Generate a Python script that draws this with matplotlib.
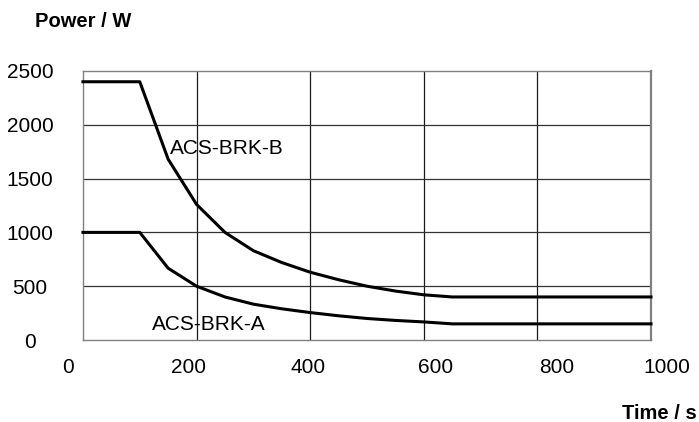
import matplotlib
matplotlib.use("Agg")
import matplotlib.pyplot as plt
from matplotlib.transforms import ScaledTranslation

plt.rcParams['font.family'] = ['Liberation Sans', 'DejaVu Sans']

zeit_b = [0, 100, 150, 200, 250, 300, 350, 400, 450, 500, 550, 600, 650, 1000]
leistung_b = [2400, 2400, 1680, 1260, 1000, 830, 720, 630, 560, 500, 455, 420, 400, 400]

zeit_a = [0, 100, 150, 200, 250, 300, 350, 400, 450, 500, 550, 600, 650, 1000]
leistung_a = [1000, 1000, 667, 500, 400, 333, 290, 255, 225, 200, 182, 168, 150, 150]

x_ticks = [0, 200, 400, 600, 800, 1000]
y_ticks = [0, 500, 1000, 1500, 2000, 2500]

fig = plt.figure(figsize=(6.99, 4.22), dpi=100)
ax = fig.add_axes([0.1187, 0.1943, 0.8126, 0.6375])

# Gitter
for x in x_ticks[1:-1]:
    ax.axvline(x, color='#1a1a1a', lw=0.9, zorder=1)
for y in y_ticks[1:-1]:
    ax.axhline(y, color='#333333', lw=0.9, zorder=1)

# Kurven
ax.plot(zeit_b, leistung_b, color='black', lw=2.2, zorder=3, clip_on=False)
ax.plot(zeit_a, leistung_a, color='black', lw=2.2, zorder=3, clip_on=False)

ax.text(153, 1730, 'ACS-BRK-B', fontsize=15, va='baseline', ha='left', zorder=4)
ax.text(121, 93, 'ACS-BRK-A', fontsize=15, va='baseline', ha='left', zorder=4)

ax.set_xlim(0, 1000)
ax.set_ylim(0, 2500)
ax.set_xticks(x_ticks)
ax.set_yticks(y_ticks)
ax.tick_params(length=0, labelsize=15)
ax.tick_params(axis='x', pad=13)
ax.tick_params(axis='y', pad=38)
for lbl in ax.get_yticklabels():
    lbl.set_horizontalalignment('center')

# Beschriftungen der x-Achse sitzen im Original etwas versetzt
versatz = [-10.8, -5.8, -1.4, 8.6, 13.7, 11.5]
for lbl, dx in zip(ax.get_xticklabels(), versatz):
    lbl.set_transform(lbl.get_transform() + ScaledTranslation(dx / 72, 0, fig.dpi_scale_trans))

for s in ax.spines.values():
    s.set_color('#808080')
    s.set_linewidth(1.0)
ax.spines['right'].set_linewidth(1.6)

fig.text(35 / 699, 1 - 27 / 422, 'Power / W', fontsize=14.5, fontweight='bold',
         ha='left', va='baseline')
fig.text(697 / 699, 3 / 422, 'Time / s', fontsize=14.5, fontweight='bold',
         ha='right', va='baseline')

fig.savefig('out.png', dpi=100)
